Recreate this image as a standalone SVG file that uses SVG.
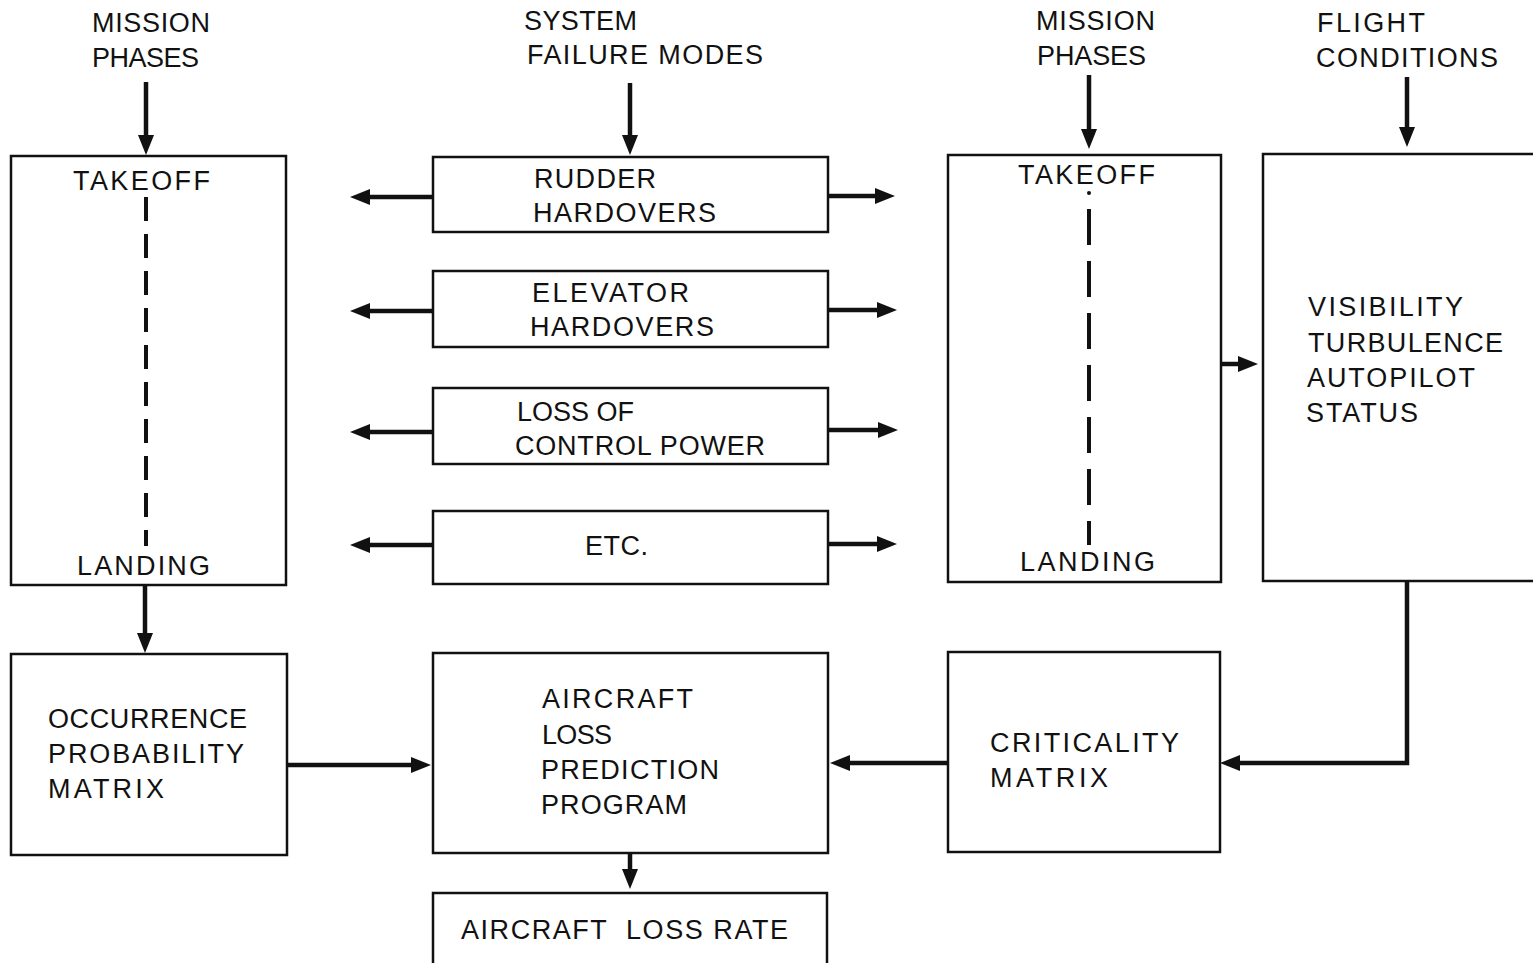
<svg xmlns="http://www.w3.org/2000/svg" width="1533" height="963" viewBox="0 0 1533 963">
<style>
  .box{fill:#fff;stroke:#111;stroke-width:2.5}
  .t{font-family:"Liberation Sans",Arial,sans-serif;font-size:27px;fill:#111}
  .c{stroke:#111;stroke-width:4.5;fill:none}
  .d{stroke:#111;stroke-width:4;fill:none;stroke-dasharray:24 13}
</style>
<defs>
  <marker id="ah" markerUnits="userSpaceOnUse" markerWidth="20" markerHeight="16" viewBox="0 0 20 16" refX="6" refY="8" orient="auto">
    <path d="M0,0 L20,8 L0,16 z" fill="#111"/>
  </marker>
</defs>
<rect width="1533" height="963" fill="#fff"/>

<g id="labels">
  <text class="t" x="92" y="32" textLength="118">MISSION</text>
  <text class="t" x="92" y="67" textLength="107">PHASES</text>
  <text class="t" x="524" y="30" textLength="113">SYSTEM</text>
  <text class="t" x="527" y="64" textLength="236">FAILURE MODES</text>
  <text class="t" x="1036" y="30" textLength="119">MISSION</text>
  <text class="t" x="1037" y="65" textLength="109">PHASES</text>
  <text class="t" x="1317" y="32" textLength="108">FLIGHT</text>
  <text class="t" x="1316" y="67" textLength="182">CONDITIONS</text>
</g>

<g id="phasesLeft">
  <rect class="box" x="11" y="156" width="275" height="429"/>
  <text class="t" x="73" y="190" textLength="137">TAKEOFF</text>
  <line class="d" x1="146" y1="197" x2="146" y2="546"/>
  <text class="t" x="77" y="575" textLength="133">LANDING</text>
</g>

<g id="rudder">
  <rect class="box" x="433" y="157" width="395" height="75"/>
  <text class="t" x="534" y="188" textLength="122">RUDDER</text>
  <text class="t" x="533" y="222" textLength="183">HARDOVERS</text>
</g>
<g id="elevator">
  <rect class="box" x="433" y="271" width="395" height="76"/>
  <text class="t" x="532" y="302" textLength="157">ELEVATOR</text>
  <text class="t" x="530" y="336" textLength="184">HARDOVERS</text>
</g>
<g id="controlPower">
  <rect class="box" x="433" y="388" width="395" height="76"/>
  <text class="t" x="517" y="421" textLength="117">LOSS OF</text>
  <text class="t" x="515" y="455" textLength="250">CONTROL POWER</text>
</g>
<g id="etc">
  <rect class="box" x="433" y="511" width="395" height="73"/>
  <text class="t" x="585" y="555" textLength="63">ETC.</text>
</g>

<g id="phasesRight">
  <rect class="box" x="948" y="155" width="273" height="427"/>
  <text class="t" x="1018" y="184" textLength="137">TAKEOFF</text>
  <circle cx="1089" cy="193" r="2" fill="#111"/>
  <line class="d" x1="1089" y1="209" x2="1089" y2="545" style="stroke-dasharray:36 16"/>
  <text class="t" x="1020" y="571" textLength="135">LANDING</text>
</g>

<g id="flightConditions">
  <rect class="box" x="1263" y="154" width="285" height="427"/>
  <text class="t" x="1308" y="316" textLength="155">VISIBILITY</text>
  <text class="t" x="1308" y="352" textLength="195">TURBULENCE</text>
  <text class="t" x="1307" y="387" textLength="168">AUTOPILOT</text>
  <text class="t" x="1306" y="422" textLength="112">STATUS</text>
</g>

<g id="occurrence">
  <rect class="box" x="11" y="654" width="276" height="201"/>
  <text class="t" x="48" y="728" textLength="199">OCCURRENCE</text>
  <text class="t" x="48" y="763" textLength="196">PROBABILITY</text>
  <text class="t" x="48" y="798" textLength="116">MATRIX</text>
</g>

<g id="program">
  <rect class="box" x="433" y="653" width="395" height="200"/>
  <text class="t" x="542" y="708" textLength="151">AIRCRAFT</text>
  <text class="t" x="542" y="744" textLength="70">LOSS</text>
  <text class="t" x="541" y="779" textLength="178">PREDICTION</text>
  <text class="t" x="541" y="814" textLength="146">PROGRAM</text>
</g>

<g id="criticality">
  <rect class="box" x="948" y="652" width="272" height="200"/>
  <text class="t" x="990" y="752" textLength="189">CRITICALITY</text>
  <text class="t" x="990" y="787" textLength="118">MATRIX</text>
</g>

<g id="lossRate">
  <rect class="box" x="433" y="893" width="394" height="75"/>
  <text class="t" x="461" y="939" textLength="327" style="white-space:pre">AIRCRAFT  LOSS RATE</text>
</g>

<g id="connectors">
  <line class="c" x1="146" y1="82" x2="146" y2="141" marker-end="url(#ah)"/>
  <line class="c" x1="630" y1="83" x2="630" y2="141" marker-end="url(#ah)"/>
  <line class="c" x1="1089" y1="75" x2="1089" y2="135" marker-end="url(#ah)"/>
  <line class="c" x1="1407" y1="77" x2="1407" y2="133" marker-end="url(#ah)"/>

  <line class="c" x1="433" y1="197" x2="364" y2="197" marker-end="url(#ah)"/>
  <line class="c" x1="433" y1="311" x2="364" y2="311" marker-end="url(#ah)"/>
  <line class="c" x1="433" y1="432" x2="364" y2="432" marker-end="url(#ah)"/>
  <line class="c" x1="433" y1="545" x2="364" y2="545" marker-end="url(#ah)"/>

  <line class="c" x1="828" y1="196" x2="881" y2="196" marker-end="url(#ah)"/>
  <line class="c" x1="828" y1="310" x2="883" y2="310" marker-end="url(#ah)"/>
  <line class="c" x1="828" y1="430" x2="884" y2="430" marker-end="url(#ah)"/>
  <line class="c" x1="828" y1="544" x2="883" y2="544" marker-end="url(#ah)"/>

  <line class="c" x1="1221" y1="364" x2="1244" y2="364" marker-end="url(#ah)"/>
  <line class="c" x1="145" y1="586" x2="145" y2="639" marker-end="url(#ah)"/>
  <line class="c" x1="287" y1="765" x2="417" y2="765" marker-end="url(#ah)"/>
  <line class="c" x1="948" y1="763" x2="844" y2="763" marker-end="url(#ah)"/>
  <path class="c" d="M1407,581 V763 H1234" marker-end="url(#ah)"/>
  <line class="c" x1="630" y1="853" x2="630" y2="875" marker-end="url(#ah)"/>
</g>
</svg>
